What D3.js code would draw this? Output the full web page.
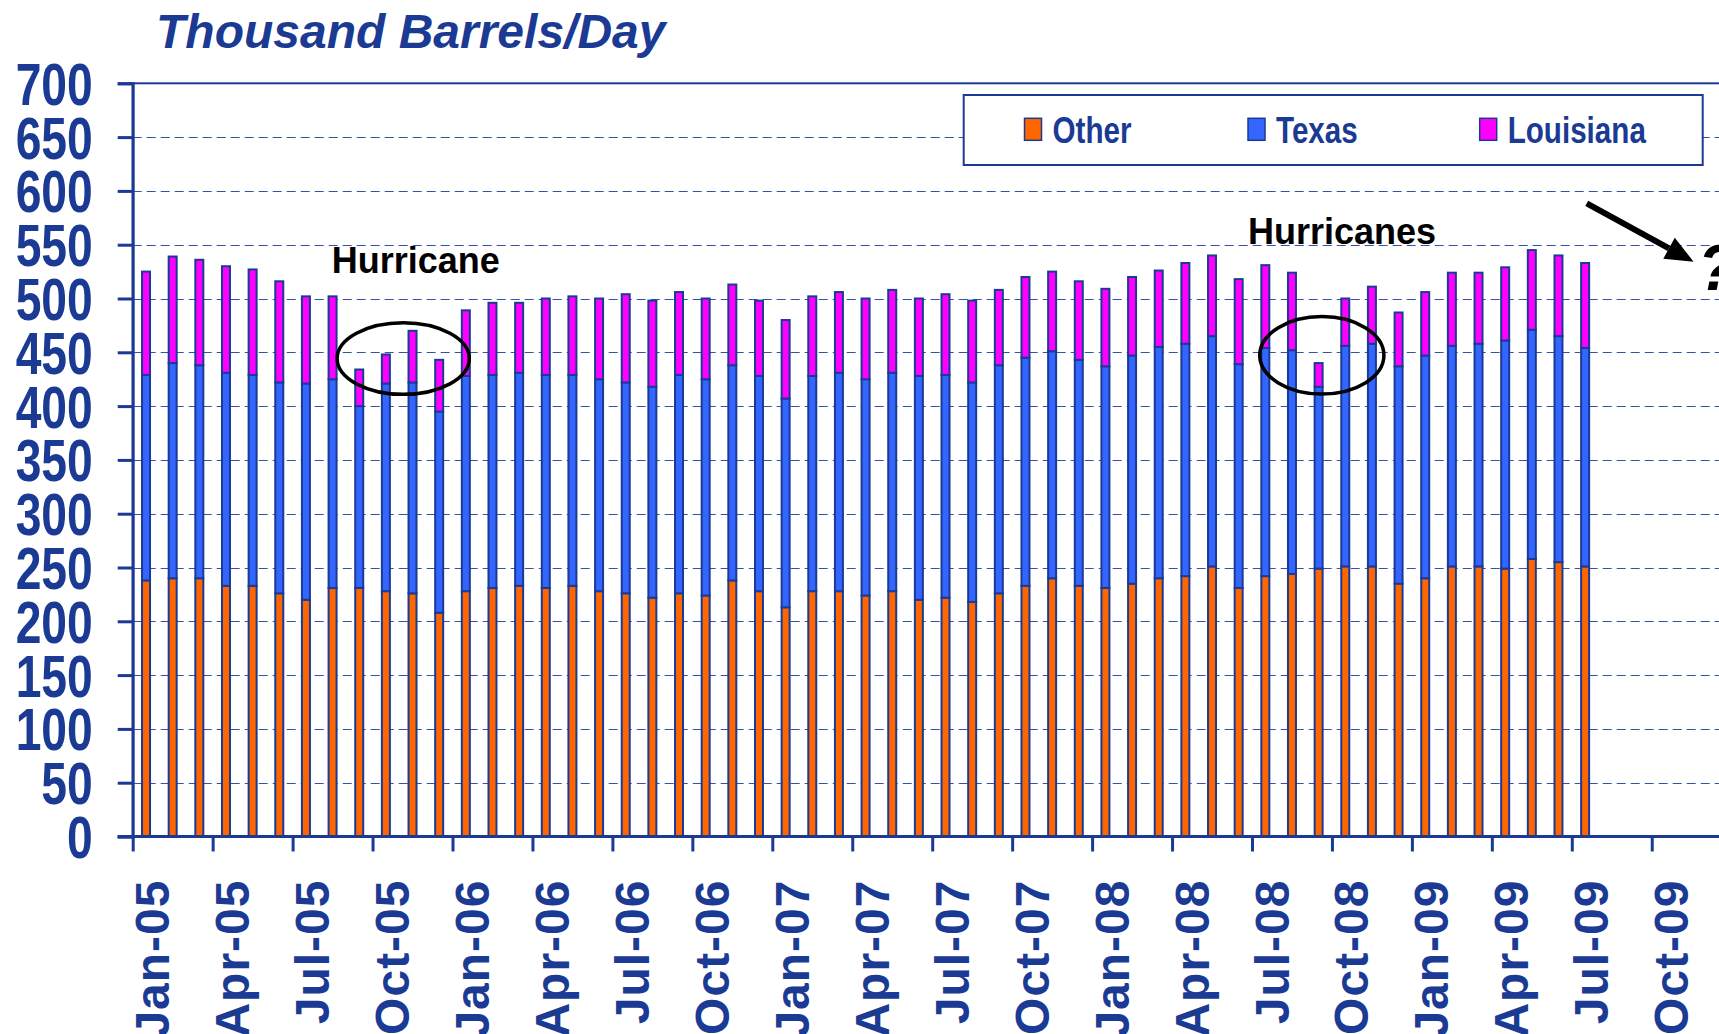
<!DOCTYPE html>
<html>
<head>
<meta charset="utf-8">
<script src="https://cdn.jsdelivr.net/npm/d3@7"></script>
<style>
  html, body { margin: 0; padding: 0; background: #ffffff; }
  svg { display: block; }
</style>
</head>
<body>
<script>
// ---------- data ----------
const months = (() => {
  const m = ["Jan","Feb","Mar","Apr","May","Jun","Jul","Aug","Sep","Oct","Nov","Dec"];
  const out = [];
  ["05","06","07","08","09"].forEach(y => m.forEach(mm => out.push(mm + "-" + y)));
  return out;
})();

const other = [238,240,240,233,233,226,220,231,231,228,226,208,
               228,231,233,231,233,228,226,222,226,224,238,228,
               213,228,228,224,228,220,222,218,226,233,240,233,
               231,235,240,242,251,231,242,244,249,251,251,235,
               240,251,251,249,258,255,251];
const texas = [191,200,198,198,196,196,201,194,169,193,196,187,
               200,198,198,198,196,197,196,196,203,201,200,200,
               194,200,203,201,203,208,207,204,212,212,211,210,
               206,212,215,216,214,208,212,208,169,205,207,202,
               207,205,207,212,213,210,203];
const louisiana = [96,99,98,99,98,94,81,77,34,27,48,48,
                   61,67,65,71,73,75,82,80,77,75,75,70,
                   73,74,75,75,77,72,75,76,70,75,74,73,
                   72,73,71,75,75,79,77,72,22,44,53,50,
                   59,68,66,68,74,75,79];
const seriesKeys = ["other","texas","louisiana"];
const seriesNames = ["Other","Texas","Louisiana"];
const seriesColors = ["#ff6600","#3366ff","#ff00ff"];
const yTicks = d3.range(0, 701, 50);
const xTickIdx = d3.range(0, 60, 3);

// ---------- layout ----------
const W = 1719, H = 1034;
const navy = "#1b3a93";
const x0 = 132.7, step = 26.65;
const x1 = x0 + months.length * step;
const yTop = 83.3, yBot = 836.5;

const svg = d3.select("body").append("svg").attr("width", W).attr("height", H)
  .style("font-family", "'Liberation Sans', Arial, sans-serif");

const x = d3.scaleBand().domain(months).range([x0, x1]).paddingInner(0.7).paddingOuter(0.35);
const xLin = d3.scaleLinear().domain([0, months.length]).range([x0, x1]);
const y = d3.scaleLinear().domain([0, 700]).range([yBot, yTop]);

// title
svg.append("text").attr("x", 156).attr("y", 48.3)
  .attr("font-size", 48).attr("font-weight", "bold").attr("font-style", "italic")
  .attr("fill", navy).text("Thousand Barrels/Day");

// gridlines
svg.append("g").selectAll("line").data(yTicks.filter(v => v > 0 && v < 700)).join("line")
  .attr("x1", x0).attr("x2", x1)
  .attr("y1", d => Math.round(y(d)) + 0.5).attr("y2", d => Math.round(y(d)) + 0.5)
  .attr("stroke", "#3553a6").attr("stroke-width", 1.2).attr("stroke-dasharray", "9,5");

// plot border
svg.append("rect").attr("x", x0).attr("y", yTop).attr("width", x1 - x0).attr("height", yBot - yTop)
  .attr("fill", "none").attr("stroke", navy).attr("stroke-width", 2);

// bars
const table = months.slice(0, other.length).map((m, i) => ({
  month: m, other: other[i], texas: texas[i], louisiana: louisiana[i]
}));
const stacked = d3.stack().keys(seriesKeys)(table);
svg.append("g").selectAll("g").data(stacked).join("g")
  .attr("fill", (d, i) => seriesColors[i])
  .selectAll("rect").data(d => d).join("rect")
  .attr("x", d => x(d.data.month))
  .attr("width", x.bandwidth())
  .attr("y", d => y(d[1]))
  .attr("height", d => y(d[0]) - y(d[1]))
  .attr("stroke", navy).attr("stroke-width", 2);

// y axis
const yAxis = svg.append("g").attr("transform", `translate(${x0},0)`)
  .call(d3.axisLeft(y).tickValues(yTicks).tickSize(15).tickFormat(d3.format("d")));
yAxis.select(".domain").attr("stroke", navy).attr("stroke-width", 3);
yAxis.selectAll(".tick line").attr("stroke", navy).attr("stroke-width", 3);
yAxis.selectAll(".tick text")
  .attr("x", 0).attr("dy", 0)
  .attr("transform", "translate(-40,21) scale(0.77,1)")
  .attr("text-anchor", "end")
  .attr("font-size", 60).attr("font-weight", "bold")
  .attr("font-family", "'Liberation Sans', Arial, sans-serif")
  .attr("fill", navy);

// x axis
const xAxis = svg.append("g").attr("transform", `translate(0,${yBot})`)
  .call(d3.axisBottom(xLin).tickValues(xTickIdx).tickSize(15).tickFormat(i => months[i]));
xAxis.select(".domain").attr("stroke", navy).attr("stroke-width", 3)
  .attr("d", `M${x0 - 15},0H${x1}`);
xAxis.selectAll(".tick line").attr("stroke", navy).attr("stroke-width", 3);
xAxis.selectAll(".tick text")
  .attr("x", 0).attr("y", 0).attr("dy", 0)
  .attr("transform", "translate(36,43) rotate(-90)")
  .attr("text-anchor", "end")
  .attr("font-size", 48).attr("font-weight", "bold")
  .attr("letter-spacing", 1)
  .attr("font-family", "'Liberation Sans', Arial, sans-serif")
  .attr("fill", navy);

// legend
const leg = svg.append("g");
leg.append("rect").attr("x", 963.7).attr("y", 95).attr("width", 739).attr("height", 70)
  .attr("fill", "#ffffff").attr("stroke", navy).attr("stroke-width", 2);
const legX = [1024.5, 1248, 1479.7];
seriesNames.forEach((name, i) => {
  leg.append("rect").attr("x", legX[i]).attr("y", 118.3).attr("width", 17).attr("height", 22)
    .attr("fill", seriesColors[i]).attr("stroke", navy).attr("stroke-width", 1.5);
  leg.append("text")
    .attr("transform", `translate(${legX[i] + 28},143.3) scale(0.8,1)`)
    .attr("font-size", 37).attr("font-weight", "bold").attr("fill", navy).text(name);
});

// annotations
const ann = svg.append("g");
ann.append("text").attr("x", xLin(7.47)).attr("y", y(523.4))
  .attr("font-size", 36).attr("font-weight", "bold").attr("fill", "#000").text("Hurricane");
ann.append("text").attr("x", xLin(41.85)).attr("y", y(550.4))
  .attr("font-size", 36).attr("font-weight", "bold").attr("fill", "#000").text("Hurricanes");
ann.append("ellipse").attr("cx", xLin(10.15)).attr("cy", y(444.2))
  .attr("rx", xLin(2.48) - xLin(0)).attr("ry", y(0) - y(33.3))
  .attr("fill", "none").attr("stroke", "#000").attr("stroke-width", 3.5);
ann.append("ellipse").attr("cx", xLin(44.62)).attr("cy", y(447.2))
  .attr("rx", xLin(2.33) - xLin(0)).attr("ry", y(0) - y(36))
  .attr("fill", "none").attr("stroke", "#000").attr("stroke-width", 3.5);

// arrow
const ax1 = xLin(54.56), ay1 = y(588.5), ax2 = xLin(58.57), ay2 = y(534.2);
const ang = Math.atan2(ay2 - ay1, ax2 - ax1);
const headLen = 28, headW = 12;
const bx = ax2 - headLen * Math.cos(ang), by = ay2 - headLen * Math.sin(ang);
ann.append("line").attr("x1", ax1).attr("y1", ay1).attr("x2", bx).attr("y2", by)
  .attr("stroke", "#000").attr("stroke-width", 6);
ann.append("path")
  .attr("d", `M${ax2},${ay2}L${bx + headW * Math.sin(ang)},${by - headW * Math.cos(ang)}L${bx - headW * Math.sin(ang)},${by + headW * Math.cos(ang)}Z`)
  .attr("fill", "#000");
ann.append("text").attr("x", xLin(58.74)).attr("y", y(508))
  .attr("font-size", 64).attr("font-weight", "bold").attr("font-style", "italic")
  .attr("fill", "#000").text("?");
</script>
</body>
</html>
